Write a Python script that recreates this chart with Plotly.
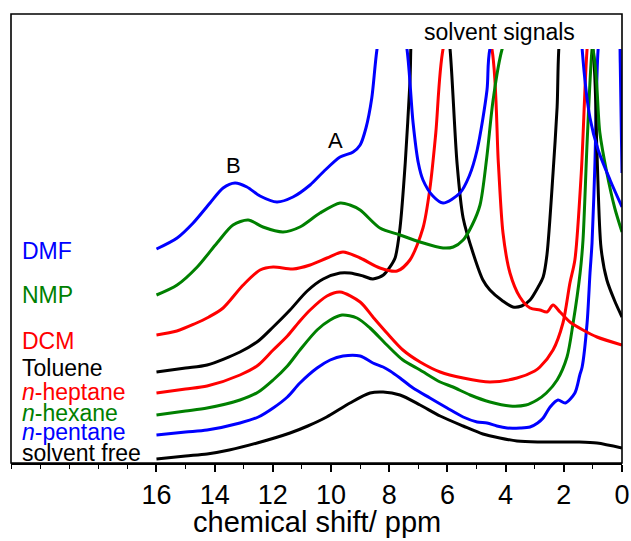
import plotly.graph_objects as go

# ---- data (chemical shift in ppm, intensity in arbitrary units) ----
free_x = [16.0, 15.0, 14.26, 13.5, 12.54, 11.41, 10.8, 10.15, 9.35, 8.66, 8.21, 7.63, 6.94, 6.25,
          5.46, 4.78, 4.2, 3.61, 2.9, 2.2, 1.5, 0.86, 0.0]
free_y = [4, 7, 9, 13, 20, 30, 37, 46, 60, 70, 71, 68, 58, 47,
          37, 29, 25, 22, 21, 21, 21, 20, 15]

pent_x = [16.0, 15.0, 14.26, 13.13, 12.5, 11.99, 11.5, 11.07, 10.48, 10.03, 9.59, 9.0, 8.56, 8.21,
          7.97, 7.63, 7.18, 6.60, 6.01, 5.46, 4.98, 4.64, 4.3, 3.95, 3.5, 3.16, 2.9, 2.71, 2.47,
          2.20, 1.95, 1.62, 1.45, 1.37, 1.2, 1.10, 1.03, 0.93, 0.82, 0.6, 0.3, 0.12, 0.06, 0.0]
pent_y = [28, 31, 33, 40, 46, 55, 66, 80, 95, 103, 107, 107, 100, 96,
          92, 85, 75, 65, 55, 46, 41, 40, 37, 35, 35, 36, 40, 45, 56,
          63, 60, 70, 88, 96, 140, 190, 220, 300, 414, 470, 480, 460, 400, 290]

hex_x = [16.0, 15.0, 14.26, 13.13, 12.5, 11.99, 11.5, 11.07, 10.48, 10.03, 9.62, 9.11, 8.66, 8.08,
         7.53, 6.94, 6.25, 5.81, 5.22, 4.54, 3.85, 3.3, 2.92, 2.6, 2.23, 1.89, 1.68, 1.44, 1.34,
         1.2, 1.03, 0.8, 0.4, 0.0]
hex_y = [48, 52, 55, 63, 71, 83, 97, 113, 133, 143, 148, 145, 135, 118,
         103, 93, 81, 76, 68, 61, 57, 58, 63, 70, 83, 106, 140, 190, 223,
         320, 414, 470, 490, 490]

hept_x = [16.0, 15.0, 14.26, 13.13, 12.5, 11.99, 11.5, 11.07, 10.72, 10.14, 9.69, 9.0, 8.56, 8.08,
          7.53, 6.94, 6.25, 5.46, 4.54, 3.61, 3.0, 2.82, 2.37, 2.03, 1.79, 1.62, 1.4, 1.2, 1.0,
          0.5, 0.0]
hept_y = [70, 74, 77, 88, 98, 113, 127, 142, 153, 167, 171, 161, 146, 130,
          113, 101, 91, 85, 81, 85, 92, 96, 113, 140, 180, 203, 290, 414, 470,
          490, 490]

tol_x = [16.0, 15.0, 14.26, 13.13, 12.5, 11.99, 11.41, 10.82, 10.27, 9.69, 9.35, 8.9, 8.56, 8.2,
         8.0, 7.80, 7.63, 7.45, 7.29, 7.15, 6.6, 6.1, 5.91, 5.67, 5.46, 5.12, 4.78, 4.54, 4.1,
         3.75, 3.45, 3.16, 2.9, 2.71, 2.58, 2.37, 2.23, 2.13, 1.6, 1.0, 0.86, 0.72, 0.52, 0.25, 0.0]
tol_y = [91, 95, 98, 111, 122, 136, 153, 172, 184, 190, 190, 187, 184, 188,
         195, 205, 235, 300, 380, 460, 500, 460, 414, 300, 245, 210, 183, 173, 162,
         156, 157, 163, 175, 186, 208, 290, 356, 430, 500, 414, 310, 215, 183, 162, 146]

dcm_x = [16.0, 15.3, 14.7, 14.2, 13.71, 13.02, 12.44, 11.99, 11.31, 10.72, 10.14, 9.59, 9.0, 8.32,
         7.73, 7.29, 6.84, 6.6, 6.4, 6.15, 5.3, 4.47, 4.25, 4.09, 3.85, 3.51, 3.16, 2.82, 2.58,
         2.37, 2.13, 1.79, 1.34, 0.86, 0.0]
dcm_y = [128, 132, 139, 146, 155, 178, 193, 196, 194, 198, 205, 211, 205, 195,
         192, 203, 235, 275, 330, 414, 500, 414, 300, 230, 190, 166, 155, 153, 151,
         158, 151, 141, 133, 126, 118]

nmp_x = [16.0, 15.29, 14.60, 13.92, 13.37, 12.85, 12.34, 11.65, 11.07, 10.38, 9.69, 9.35, 9.0, 8.32,
         7.63, 6.94, 6.15, 5.8, 5.46, 5.15, 4.88, 4.65, 4.43, 4.12, 3.0, 2.0, 1.0, 0.76, 0.52,
         0.25, 0.0]
nmp_y = [168, 178, 196, 220, 238, 243, 236, 231, 236, 250, 260, 258, 253, 235,
         228, 221, 215, 216, 223, 238, 258, 305, 363, 414, 500, 500, 414, 330, 290,
         255, 231]

dmf_x = [16.0, 15.29, 14.74, 14.16, 13.71, 13.30, 12.89, 12.44, 11.86, 11.31, 10.72, 10.27, 9.69,
         9.24, 9.0, 8.8, 8.6, 8.42, 7.9, 7.39, 7.18, 7.0, 6.84, 6.5, 6.15, 5.57, 5.25, 4.98, 4.64,
         4.54, 3.5, 1.5, 1.37, 1.10, 0.82, 0.41, 0.0]
dmf_y = [214, 225, 240, 260, 275, 280, 276, 267, 261, 266, 278, 291, 306,
         311, 318, 335, 365, 414, 500, 414, 340, 300, 283, 267, 260, 270, 287, 313, 373,
         414, 500, 500, 414, 345, 313, 283, 256]

series = [
    ("solvent free", free_x, free_y, "#000000"),
    ("n-pentane", pent_x, pent_y, "#0000FF"),
    ("n-hexane", hex_x, hex_y, "#008000"),
    ("n-heptane", hept_x, hept_y, "#FF0000"),
    ("Toluene", tol_x, tol_y, "#000000"),
    ("DCM", dcm_x, dcm_y, "#FF0000"),
    ("NMP", nmp_x, nmp_y, "#008000"),
    ("DMF", dmf_x, dmf_y, "#0000FF"),
]

label_text = ["DMF", "NMP", "DCM", "Toluene", "<i>n</i>-heptane", "<i>n</i>-hexane",
              "<i>n</i>-pentane", "solvent free"]
label_color = ["#0000FF", "#008000", "#FF0000", "#000000", "#FF0000", "#008000", "#0000FF", "#000000"]
label_y = [212, 168, 122, 95, 71, 50, 31.5, 10.5]

tick_vals = [16, 14, 12, 10, 8, 6, 4, 2, 0]

FONT = "Liberation Sans, Arial, sans-serif"

fig = go.Figure()
for name, xs, ys, col in series:
    fig.add_trace(go.Scatter(x=xs, y=ys, mode="lines", name=name,
                             line=dict(color=col, width=3, shape="spline", smoothing=0.8),
                             showlegend=False, hoverinfo="skip"))

for t, c, yv in zip(label_text, label_color, label_y):
    fig.add_annotation(x=20.68, y=yv, xref="x", yref="y", text=t, showarrow=False,
                       xanchor="left", yanchor="middle",
                       font=dict(family=FONT, size=23, color=c))

fig.add_annotation(x=9.83, y=323, xref="x", yref="y", text="A", showarrow=False,
                   xanchor="center", yanchor="middle", font=dict(family=FONT, size=22, color="black"))
fig.add_annotation(x=13.37, y=298, xref="x", yref="y", text="B", showarrow=False,
                   xanchor="center", yanchor="middle", font=dict(family=FONT, size=22, color="black"))
fig.add_annotation(x=0.800, y=1.041, xref="paper", yref="paper", text="solvent signals",
                   showarrow=False, xanchor="center", yanchor="middle",
                   font=dict(family=FONT, size=23, color="black"))
fig.add_annotation(x=0.5, y=-0.1425, xref="paper", yref="paper", text="chemical shift/ ppm",
                   showarrow=False, xanchor="center", yanchor="middle",
                   font=dict(family=FONT, size=29, color="black"))

fig.add_shape(type="rect", xref="paper", yref="paper", x0=0, x1=1, y0=0, y1=1 + 35 / 414,
              line=dict(color="black", width=1.6), layer="above")

fig.update_xaxes(range=[21.0, 0], tickvals=tick_vals, ticktext=[str(v) for v in tick_vals],
                 ticks="outside", ticklen=7, tickwidth=1.5, tickcolor="black",
                 minor=dict(dtick=1, ticks="outside", ticklen=4, tickwidth=1.2, tickcolor="black",
                            tick0=1, showgrid=False),
                 showline=True, linecolor="black", linewidth=1.6, mirror=False,
                 showgrid=False, zeroline=False, automargin=False,
                 tickfont=dict(family=FONT, size=27, color="black"))
fig.update_yaxes(range=[0, 414], showticklabels=False, ticks="", showgrid=False,
                 zeroline=False, showline=False, automargin=False)

fig.update_layout(width=631, height=541, margin=dict(l=11, r=9, t=49, b=78, autoexpand=False),
                  plot_bgcolor="white", paper_bgcolor="white")

fig.write_html("out.html")
